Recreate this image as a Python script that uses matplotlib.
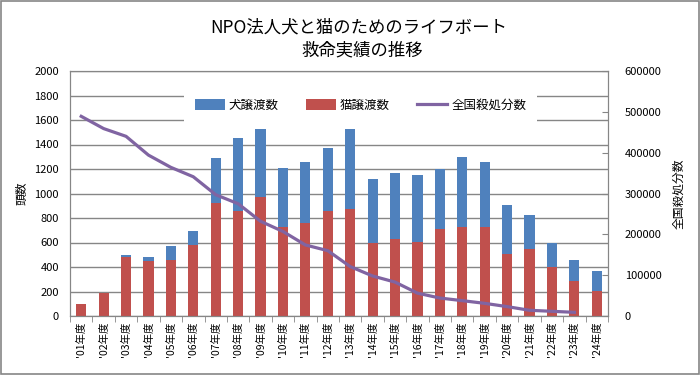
import matplotlib
matplotlib.use("Agg")
import matplotlib.pyplot as plt
import numpy as np
from matplotlib.patches import Patch, Rectangle
from matplotlib.lines import Line2D

plt.rcParams['font.family'] = ['Noto Sans CJK JP', 'DejaVu Sans']

years = ["'01年度", "'02年度", "'03年度", "'04年度", "'05年度", "'06年度", "'07年度", "'08年度",
         "'09年度", "'10年度", "'11年度", "'12年度", "'13年度", "'14年度", "'15年度", "'16年度",
         "'17年度", "'18年度", "'19年度", "'20年度", "'21年度", "'22年度", "'23年度", "'24年度"]
cats = [100, 190, 483, 450, 461, 576, 919, 854, 968, 723, 756, 854, 876, 598, 630, 608,
        707, 723, 729, 510, 543, 401, 287, 205]
totals = [100, 190, 502, 483, 573, 696, 1293, 1457, 1523, 1212, 1261, 1375, 1523, 1121, 1171, 1154,
          1198, 1302, 1261, 909, 827, 600, 458, 368]
dogs = [t - c for t, c in zip(totals, cats)]
culled = [489000, 459000, 440000, 394000, 364000, 341000, 297000, 275000, 232000, 207000, 174000,
          160000, 121000, 98000, 83000, 56000, 44000, 37600, 31000, 23000, 14000, 11500, 9000, np.nan]

blue = '#4F81BD'
red = '#C0504D'
purple = '#8064A2'
gray = '#868686'

fig = plt.figure(figsize=(7, 3.75), dpi=100)
fig.patches.append(Rectangle((0.001, 0.002), 0.997, 0.995, transform=fig.transFigure,
                             fill=False, edgecolor=gray, linewidth=1.2))

ax = fig.add_axes([70/700, 1-316/375, 538/700, 245/375])
x = np.arange(len(years))
ax.bar(x, cats, width=0.45, color=red, zorder=2)
ax.bar(x, dogs, width=0.45, bottom=cats, color=blue, zorder=2)
ax.set_xlim(-0.5, len(years) - 0.5)
ax.set_ylim(0, 2000)
ax.set_yticks(np.arange(0, 2001, 200))
ax.yaxis.grid(True, color=gray, linewidth=1.0, zorder=0)
ax.set_axisbelow(True)
ax.set_xticks(x)
ax.set_xticklabels(years, rotation=90, fontsize=7.5)
ax.tick_params(axis='x', length=0, pad=4)
ax.set_xticks(np.arange(-0.5, len(years), 1), minor=True)
ax.tick_params(axis='x', which='minor', length=4, color=gray, direction='out')
ax.tick_params(axis='y', length=0, labelsize=8, pad=8)
for s in ax.spines.values():
    s.set_color(gray)
ax.set_ylabel('頭数', fontsize=8.5, labelpad=4)

ax2 = ax.twinx()
ax2.plot(x, culled, color=purple, linewidth=2.3, zorder=3)
ax2.set_ylim(0, 600000)
ax2.set_yticks(np.arange(0, 600001, 100000))
ax2.set_yticklabels([str(v) for v in range(0, 600001, 100000)])
ax2.tick_params(axis='y', direction='in', length=4, color=gray, labelsize=8, pad=12)
for s in ax2.spines.values():
    s.set_color(gray)
ax2.set_ylabel('全国殺処分数', fontsize=8.5, rotation=90, labelpad=8)

handles = [Patch(facecolor=blue, label='犬譲渡数'),
           Patch(facecolor=red, label='猫譲渡数'),
           Line2D([0], [0], color=purple, linewidth=2.3, label='全国殺処分数')]
leg = ax2.legend(handles=handles, loc='center', bbox_to_anchor=(0.54, 0.86), ncol=3,
                 fontsize=9, frameon=True, facecolor='white', edgecolor='none', framealpha=1,
                 handlelength=2.4, handleheight=0.9, columnspacing=2.2, handletextpad=0.3,
                 borderpad=0.9, fancybox=False)

fig.text(0.513, 0.928, 'NPO法人犬と猫のためのライフボート', ha='center', va='center', fontsize=12.5)
fig.text(0.517, 0.866, '救命実績の推移', ha='center', va='center', fontsize=12.5)

fig.savefig('out.png', dpi=100)
